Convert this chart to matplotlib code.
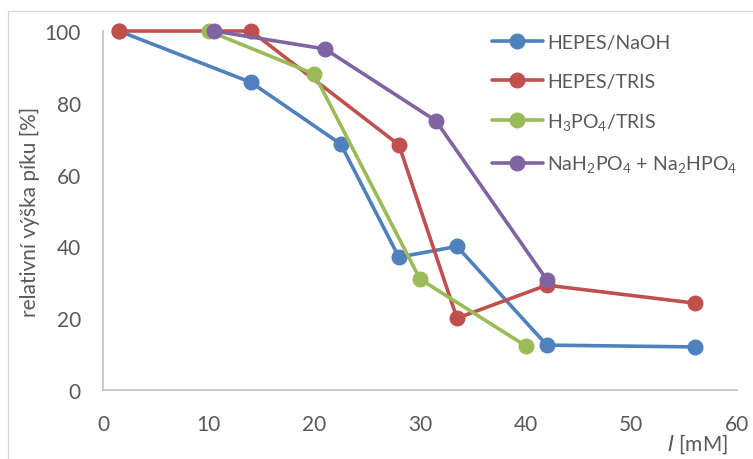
import matplotlib.pyplot as plt
from matplotlib.patches import Rectangle

# Ionic strength [mM] and relative peak height [%] for each buffer
hepes_naoh_x = [1.5, 14, 22.5, 28, 33.5, 42, 56]
hepes_naoh_y = [100, 85.7, 68.5, 37, 40, 12.5, 12]

hepes_tris_x = [1.5, 14, 28, 33.5, 42, 56]
hepes_tris_y = [100, 100, 68.3, 20, 29.2, 24.2]

h3po4_tris_x = [10, 20, 30, 40]
h3po4_tris_y = [100, 88, 30.9, 12.3]

phosphate_x = [10.5, 21, 31.5, 42]
phosphate_y = [100, 95, 75, 30.7]

labels = ["HEPES/NaOH", "HEPES/TRIS", "H$_3$PO$_4$/TRIS",
          "NaH$_2$PO$_4$ + Na$_2$HPO$_4$"]
colors = ["#4F81BD", "#C0504D", "#9BBB59", "#8064A2"]

plt.rcParams["font.family"] = ["Lato", "DejaVu Sans"]
plt.rcParams["mathtext.default"] = "regular"
text_color = "#595959"
fs = 15

fig = plt.figure(figsize=(7.53, 4.60), dpi=100)
ax = fig.add_axes([103 / 753, 69 / 460, 634 / 753, 359 / 460])

series = [(hepes_naoh_x, hepes_naoh_y), (hepes_tris_x, hepes_tris_y),
          (h3po4_tris_x, h3po4_tris_y), (phosphate_x, phosphate_y)]
for (xs, ys), lab, col in zip(series, labels, colors):
    ax.plot(xs, ys, color=col, lw=2.6, marker="o", ms=10.5, label=lab,
            solid_capstyle="round", clip_on=False)

ax.set_xlim(0, 60)
ax.set_ylim(0, 100)
ax.set_xticks(range(0, 61, 10))
ax.set_yticks(range(0, 101, 20))
ax.tick_params(length=0, labelsize=fs, labelcolor=text_color)
ax.tick_params(axis="x", pad=17)
ax.tick_params(axis="y", pad=16)

for side in ["top", "right"]:
    ax.spines[side].set_visible(False)
for side in ["left", "bottom"]:
    ax.spines[side].set_color("#BFBFBF")
    ax.spines[side].set_linewidth(1.2)

ax.set_ylabel("relativní výška píku [%]", fontsize=fs, color=text_color,
              labelpad=3)
ax.text(0.985, -0.115, "$\\mathit{I}$ [mM]", transform=ax.transAxes,
        ha="right", va="top", fontsize=fs, color=text_color)

leg = ax.legend(loc="upper left", bbox_to_anchor=(0.586, 1.04), frameon=False,
                fontsize=14, handlelength=2.6, handletextpad=0.25,
                labelspacing=1.1, labelcolor=text_color)

# thin chart border
fig.patches.append(Rectangle((8 / 753, -0.1), 1.2, (460 - 12) / 460 + 0.1,
                             transform=fig.transFigure, fill=False,
                             edgecolor="#D9D9D9", lw=1.0))

plt.savefig("out.png", dpi=100)
